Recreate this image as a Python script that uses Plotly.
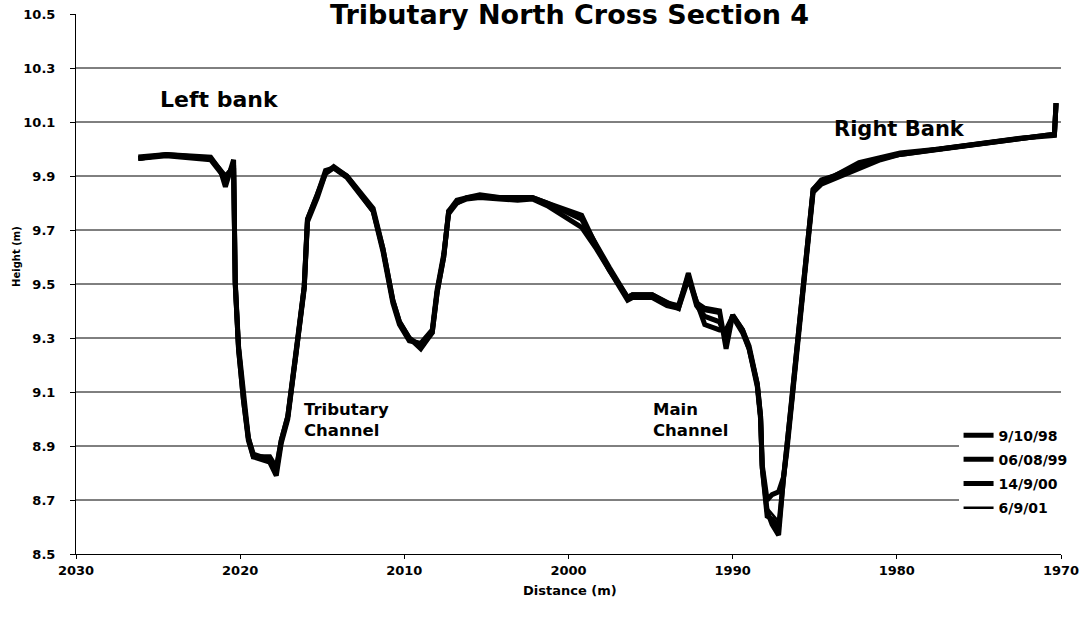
import plotly.graph_objects as go

# ---- data ----
distance = [2026.2, 2024.5, 2021.8, 2021.2, 2020.9, 2020.4, 2020.3, 2020.1, 2019.8, 2019.5,
            2019.2, 2018.7, 2018.2, 2017.8, 2017.5, 2017.1, 2016.6, 2016.1, 2015.9, 2015.3,
            2014.8, 2014.3, 2013.5, 2011.9, 2011.3, 2010.7, 2010.3, 2009.7, 2009.0, 2008.3,
            2008.0, 2007.6, 2007.3, 2006.8, 2006.2, 2005.4, 2004.2, 2003.1, 2002.2, 2001.3,
            1999.2, 1998.3, 1997.5, 1996.4, 1996.1, 1994.9, 1994.0, 1993.3, 1992.7, 1992.2,
            1991.7, 1990.8, 1990.4, 1990.0, 1989.4, 1989.0, 1988.5, 1988.3, 1988.2, 1987.9,
            1987.6, 1987.2, 1986.9, 1986.7, 1986.4, 1986.1, 1985.8, 1985.5, 1985.1, 1984.6,
            1983.8, 1982.3, 1981.0, 1979.8, 1977.4, 1974.9, 1972.5, 1970.4, 1970.3]

h_981009 = [9.965, 9.98, 9.97, 9.92, 9.86, 9.96, 9.50, 9.26, 9.07, 8.92,
            8.86, 8.85, 8.84, 8.79, 8.91, 9.00, 9.23, 9.48, 9.73, 9.82,
            9.91, 9.935, 9.90, 9.77, 9.63, 9.44, 9.36, 9.30, 9.26, 9.32,
            9.47, 9.60, 9.77, 9.80, 9.82, 9.83, 9.82, 9.82, 9.82, 9.80,
            9.755, 9.64, 9.55, 9.45, 9.46, 9.46, 9.43, 9.41, 9.54, 9.43,
            9.41, 9.40, 9.26, 9.385, 9.33, 9.26, 9.13, 9.01, 8.82, 8.66,
            8.61, 8.57, 8.785, 8.885, 9.07, 9.255, 9.44, 9.63, 9.85, 9.885,
            9.90, 9.95, 9.97, 9.985, 10.00, 10.02, 10.04, 10.055, 10.17]

h_990806 = [9.97, 9.98, 9.965, 9.92, 9.90, 9.93, 9.50, 9.26, 9.07, 8.93,
            8.87, 8.86, 8.86, 8.82, 8.92, 9.01, 9.24, 9.49, 9.74, 9.83,
            9.92, 9.93, 9.895, 9.77, 9.62, 9.43, 9.35, 9.29, 9.28, 9.33,
            9.48, 9.61, 9.76, 9.80, 9.815, 9.82, 9.815, 9.81, 9.815, 9.79,
            9.71, 9.63, 9.55, 9.44, 9.45, 9.45, 9.42, 9.41, 9.52, 9.43,
            9.35, 9.33, 9.33, 9.38, 9.32, 9.26, 9.12, 9.00, 8.83, 8.70,
            8.72, 8.73, 8.785, 8.88, 9.06, 9.25, 9.43, 9.62, 9.84, 9.87,
            9.89, 9.93, 9.96, 9.98, 10.00, 10.02, 10.04, 10.055, 10.17]

h_000914 = [9.965, 9.975, 9.96, 9.91, 9.89, 9.94, 9.51, 9.27, 9.08, 8.93,
            8.86, 8.86, 8.85, 8.81, 8.92, 9.01, 9.24, 9.49, 9.74, 9.83,
            9.91, 9.93, 9.90, 9.78, 9.63, 9.44, 9.36, 9.30, 9.27, 9.32,
            9.47, 9.60, 9.77, 9.81, 9.82, 9.825, 9.82, 9.815, 9.82, 9.80,
            9.74, 9.64, 9.56, 9.45, 9.46, 9.46, 9.43, 9.42, 9.53, 9.42,
            9.38, 9.36, 9.30, 9.385, 9.33, 9.27, 9.13, 9.01, 8.82, 8.64,
            8.63, 8.60, 8.78, 8.89, 9.07, 9.26, 9.44, 9.63, 9.85, 9.88,
            9.90, 9.94, 9.965, 9.98, 10.00, 10.02, 10.04, 10.05, 10.17]

h_010906 = [9.96, 9.975, 9.965, 9.92, 9.88, 9.95, 9.50, 9.26, 9.07, 8.92,
            8.86, 8.85, 8.85, 8.80, 8.91, 9.00, 9.23, 9.48, 9.73, 9.82,
            9.91, 9.935, 9.90, 9.77, 9.63, 9.44, 9.36, 9.30, 9.27, 9.32,
            9.47, 9.60, 9.77, 9.80, 9.82, 9.83, 9.82, 9.82, 9.82, 9.80,
            9.75, 9.64, 9.55, 9.45, 9.46, 9.46, 9.43, 9.41, 9.54, 9.43,
            9.40, 9.39, 9.28, 9.385, 9.33, 9.26, 9.13, 9.01, 8.82, 8.67,
            8.65, 8.62, 8.785, 8.885, 9.07, 9.255, 9.44, 9.63, 9.85, 9.88,
            9.895, 9.94, 9.965, 9.985, 10.00, 10.02, 10.04, 10.055, 10.17]

series_names = ["9/10/98", "06/08/99", "14/9/00", "6/9/01"]
series_heights = [h_981009, h_990806, h_000914, h_010906]
series_widths = [5, 5, 5, 2.5]

x_ticks = [2030, 2020, 2010, 2000, 1990, 1980, 1970]
y_ticks = [8.5, 8.7, 8.9, 9.1, 9.3, 9.5, 9.7, 9.9, 10.1, 10.3, 10.5]
y_grid = [8.7, 8.9, 9.1, 9.3, 9.5, 9.7, 9.9, 10.1, 10.3]

FONT = "DejaVu Sans"

fig = go.Figure()
for i, (name, h, w) in enumerate(zip(series_names, series_heights, series_widths)):
    fig.add_trace(go.Scatter(
        x=distance, y=h, mode="lines", name=name,
        line=dict(color="black", width=w),
        legendgroup=f"g{i}",
    ))

grid_shapes = [
    dict(type="line", xref="paper", yref="y", x0=0, x1=1, y0=v, y1=v,
         line=dict(color="black", width=1), layer="below")
    for v in y_grid
]

fig.update_layout(
    width=1087, height=620,
    margin=dict(l=76, r=26, t=14, b=66, autoexpand=False),
    paper_bgcolor="white", plot_bgcolor="white",
    font=dict(family=FONT, color="black"),
    showlegend=True,
    legend=dict(
        x=0.896, y=0.249, xanchor="left", yanchor="top",
        bgcolor="white", borderwidth=0,
        font=dict(family=FONT, size=14, color="black", weight="bold"),
        tracegroupgap=3, itemwidth=30,
    ),
    xaxis=dict(
        range=[2030, 1970], autorange=False, automargin=False,
        tickvals=x_ticks, ticktext=[str(v) for v in x_ticks],
        showgrid=False, zeroline=False,
        showline=True, linecolor="black", linewidth=1,
        ticks="outside", ticklen=4, tickcolor="black",
        ticklabeloverflow="allow",
        tickfont=dict(family=FONT, size=13, color="black", weight="bold"),
    ),
    yaxis=dict(
        range=[8.5, 10.5], autorange=False, automargin=False,
        tickvals=y_ticks, ticktext=[f"{v:.1f}" for v in y_ticks],
        showgrid=False, zeroline=False,
        showline=True, linecolor="black", linewidth=1,
        ticks="outside", ticklen=5, tickcolor="black",
        ticklabelstandoff=12, ticklabeloverflow="allow",
        tickfont=dict(family=FONT, size=13, color="black", weight="bold"),
    ),
    shapes=grid_shapes,
    annotations=[
        dict(text="<b>Tributary North Cross Section 4</b>", xref="paper", yref="paper",
             x=0.5015, y=0.999, xanchor="center", yanchor="middle", showarrow=False,
             font=dict(family=FONT, size=27, color="black")),
        dict(text="<b>Distance (m)</b>", xref="paper", yref="paper",
             x=0.5015, y=-0.0685, xanchor="center", yanchor="middle", showarrow=False,
             font=dict(family=FONT, size=13, color="black")),
        dict(text="<b>Height (m)</b>", xref="paper", yref="paper",
             x=-0.0599, y=0.552, xanchor="center", yanchor="middle", showarrow=False,
             textangle=-90, font=dict(family=FONT, size=10, color="black")),
        dict(text="<b>Left bank</b>", xref="x", yref="y",
             x=2025.0, y=10.185, xanchor="left", yanchor="middle", showarrow=False,
             font=dict(family=FONT, size=22, color="black")),
        dict(text="<b>Right Bank</b>", xref="x", yref="y",
             x=1983.96, y=10.074, xanchor="left", yanchor="middle", showarrow=False,
             font=dict(family=FONT, size=21, color="black")),
        dict(text="<b>Tributary<br>Channel</b>", xref="x", yref="y",
             x=2016.24, y=8.998, xanchor="left", yanchor="middle", align="left",
             showarrow=False, font=dict(family=FONT, size=16.5, color="black")),
        dict(text="<b>Main<br>Channel</b>", xref="x", yref="y",
             x=1994.98, y=8.998, xanchor="left", yanchor="middle", align="left",
             showarrow=False, font=dict(family=FONT, size=16.5, color="black")),
    ],
)

fig.write_html(
    "out.html",
    config={"displayModeBar": False},
    post_script="document.body.style.margin='0';document.body.style.padding='0';",
)
